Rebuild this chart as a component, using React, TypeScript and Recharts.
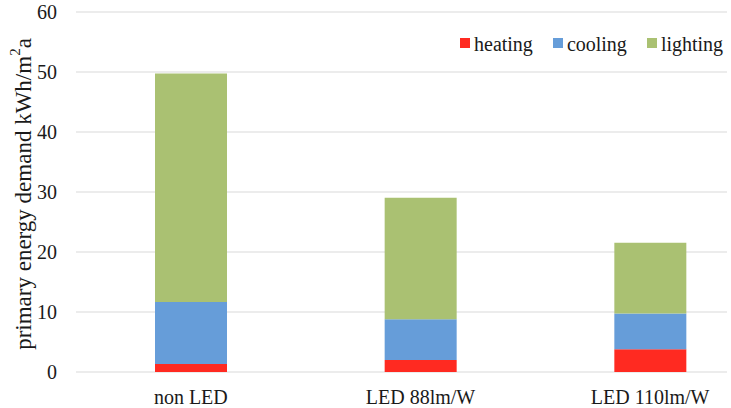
import React from 'react'
import { BarChart, Bar, XAxis, YAxis, CartesianGrid, Legend, Label } from 'recharts'

// primary energy demand per lighting variant, kWh/m²a
const variants = ['non LED', 'LED 88lm/W', 'LED 110lm/W']
const heating = [1.35, 2.0, 3.8]
const cooling = [10.3, 6.8, 5.95]
const lighting = [38.1, 20.25, 11.8]
const yTicks = [0, 10, 20, 30, 40, 50, 60]

const COLORS = { heating: '#FF2A21', cooling: '#669DD9', lighting: '#AAC172' }
const FONT = 'Liberation Serif, Times New Roman, Times, serif'

const data = variants.map((name, i) => ({
  name,
  heating: heating[i],
  cooling: cooling[i],
  lighting: lighting[i],
}))

const legendItems = [
  { key: 'heating', color: COLORS.heating },
  { key: 'cooling', color: COLORS.cooling },
  { key: 'lighting', color: COLORS.lighting },
]

function LegendRow() {
  return (
    <div style={{ display: 'flex', alignItems: 'center', fontFamily: FONT, fontSize: 20, lineHeight: '20px', color: '#1a1a1a' }}>
      {legendItems.map((it) => (
        <div key={it.key} style={{ display: 'flex', alignItems: 'center', marginRight: 20 }}>
          <span style={{ width: 10, height: 10, background: it.color, marginRight: 4, position: 'relative', top: -1 }} />
          <span>{it.key}</span>
        </div>
      ))}
    </div>
  )
}

function YTitle(props: any) {
  const vb = props.viewBox || { y: 12, height: 360 }
  const cx = 23
  const cy = vb.y + vb.height / 2 + 2
  return (
    <text
      x={cx}
      y={cy}
      transform={`rotate(-90, ${cx}, ${cy})`}
      textAnchor="middle"
      dominantBaseline="central"
      style={{ fontFamily: FONT }}
      fontSize={23}
      fill="#1a1a1a"
    >
      primary energy demand kWh/m<tspan dy={-8} fontSize={15}>2</tspan><tspan dy={8}>a</tspan>
    </text>
  )
}

const tickStyle = { fontFamily: FONT, fontSize: 20, fill: '#1a1a1a', style: { fontFamily: FONT } }

export default function App() {
  return (
    <div style={{ position: 'absolute', top: 0, left: 0, width: 727, height: 408, overflow: 'hidden', background: '#fff' }}>
      <BarChart width={800} height={408} data={data} margin={{ top: 12, right: 35, bottom: 6, left: 0 }}>
        <CartesianGrid vertical={false} stroke="#D9D9D9" strokeWidth={1.2} />
        <XAxis
          dataKey="name"
          height={30}
          axisLine={false}
          tickLine={false}
          tickMargin={12}
          tick={tickStyle}
        />
        <YAxis
          width={76}
          domain={[0, 60]}
          ticks={yTicks}
          axisLine={false}
          tickLine={false}
          tickMargin={13}
          tick={tickStyle}
        >
          <Label content={YTitle} />
        </YAxis>
        <Legend
          layout="horizontal"
          verticalAlign="middle"
          align="center"
          content={() => <LegendRow />}
          wrapperStyle={{ top: 34, left: 460, width: 'auto' }}
        />
        <Bar dataKey="heating" stackId="e" fill={COLORS.heating} barSize={72} isAnimationActive={false} />
        <Bar dataKey="cooling" stackId="e" fill={COLORS.cooling} barSize={72} isAnimationActive={false} />
        <Bar dataKey="lighting" stackId="e" fill={COLORS.lighting} barSize={72} isAnimationActive={false} />
      </BarChart>
    </div>
  )
}
